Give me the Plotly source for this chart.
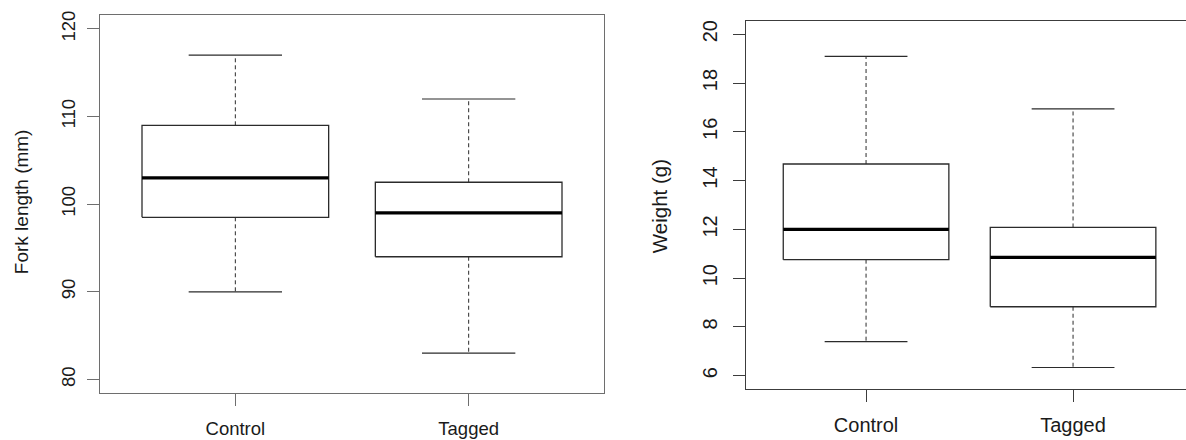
import plotly.graph_objects as go

# Groups compared in both panels
groups = ["Control", "Tagged"]

# Fork length (mm): whisker ends, quartiles and medians per group
fl_low = [90.0, 83.0]
fl_q1 = [98.5, 94.0]
fl_med = [103.0, 99.0]
fl_q3 = [109.0, 102.5]
fl_high = [117.0, 112.0]
fl_ticks = [80, 90, 100, 110, 120]

# Weight (g): whisker ends, quartiles and medians per group
wt_low = [7.40, 6.34]
wt_q1 = [10.76, 8.83]
wt_med = [12.0, 10.85]
wt_q3 = [14.68, 12.08]
wt_high = [19.09, 16.94]
wt_ticks = [6, 8, 10, 12, 14, 16, 18, 20]

W, H = 1186, 440
FONT = "Liberation Sans, Arial, sans-serif"
TEXT = "#1a1a1a"
BOX_LINE = "#2b2b2b"

fig = go.Figure()


def add_boxplot(fig, xa, ya, low, q1, med, q3, high):
    half_box, half_cap = 0.4, 0.2
    for i in range(len(groups)):
        p = i + 1
        common = dict(xaxis=xa, yaxis=ya, mode="lines", showlegend=False,
                      hoverinfo="skip")
        # dashed whiskers
        fig.add_trace(go.Scatter(
            x=[p, p, None, p, p], y=[q3[i], high[i], None, q1[i], low[i]],
            line=dict(color=BOX_LINE, width=1, dash="4px,3px"), **common))
        # whisker caps
        fig.add_trace(go.Scatter(
            x=[p - half_cap, p + half_cap, None, p - half_cap, p + half_cap],
            y=[high[i], high[i], None, low[i], low[i]],
            line=dict(color=BOX_LINE, width=1.2), **common))
        # box
        fig.add_trace(go.Scatter(
            x=[p - half_box, p + half_box, p + half_box, p - half_box, p - half_box],
            y=[q1[i], q1[i], q3[i], q3[i], q1[i]],
            fill="toself", fillcolor="white",
            line=dict(color=BOX_LINE, width=1.3), **common))
        # median
        fig.add_trace(go.Scatter(
            x=[p - half_box, p + half_box], y=[med[i], med[i]],
            line=dict(color="black", width=3.2), **common))


add_boxplot(fig, "x", "y", fl_low, fl_q1, fl_med, fl_q3, fl_high)
add_boxplot(fig, "x2", "y2", wt_low, wt_q1, wt_med, wt_q3, wt_high)

font_left = dict(family=FONT, size=18.5, color=TEXT)
font_right = dict(family=FONT, size=20, color=TEXT)

common_x = dict(tickmode="array", tickvals=[1, 2], ticktext=groups,
                ticks="outside", ticklen=12, tickwidth=1,
                showgrid=False, zeroline=False, showline=True,
                ticklabelstandoff=6, fixedrange=True)
common_y = dict(tickmode="array", ticks="outside", ticklen=12, tickwidth=1,
                showgrid=False, zeroline=False, showline=True,
                tickangle=-90, fixedrange=True)

# left panel: fork length
fig.update_layout(
    xaxis=dict(domain=[100 / W, 604 / W], range=[0.42, 2.58], mirror=True,
               linecolor="#6e6e6e", tickcolor="#6e6e6e", anchor="y",
               tickfont=font_left, **common_x),
    yaxis=dict(domain=[1 - 393 / H, 1 - 11 / H], range=[78.4, 121.6],
               tickvals=fl_ticks, mirror=True, linecolor="#6e6e6e",
               tickcolor="#6e6e6e", anchor="x", tickfont=font_left,
               ticklabelstandoff=5, **common_y),
    # right panel: weight (its right edge runs past the window)
    xaxis2=dict(domain=[746 / W, 1.0], range=[0.42, 0.42 + (W - 746) / 207.0],
                mirror=True, linecolor="#3c3c3c", tickcolor="#3c3c3c",
                anchor="y2", tickfont=font_right, **common_x),
    yaxis2=dict(domain=[1 - 389 / H, 1 - 16.7 / H], range=[5.44, 20.56],
                tickvals=wt_ticks, mirror=False, linecolor="#3c3c3c",
                tickcolor="#3c3c3c", anchor="x2", tickfont=font_right,
                ticklabelstandoff=8, **common_y),
)

fig.add_annotation(text="Fork length (mm)", xref="paper", yref="paper",
                   x=21 / W, y=1 - 200 / H, textangle=-90, showarrow=False,
                   xanchor="center", yanchor="middle",
                   font=dict(family=FONT, size=19, color=TEXT))
fig.add_annotation(text="Weight (g)", xref="paper", yref="paper",
                   x=659 / W, y=1 - 204 / H, textangle=-90, showarrow=False,
                   xanchor="center", yanchor="middle",
                   font=dict(family=FONT, size=20.5, color=TEXT))

fig.update_layout(width=W, height=H, margin=dict(l=0, r=0, t=0, b=0),
                  paper_bgcolor="white", plot_bgcolor="white",
                  showlegend=False)

fig.write_html("out.html", config={"displayModeBar": False})
